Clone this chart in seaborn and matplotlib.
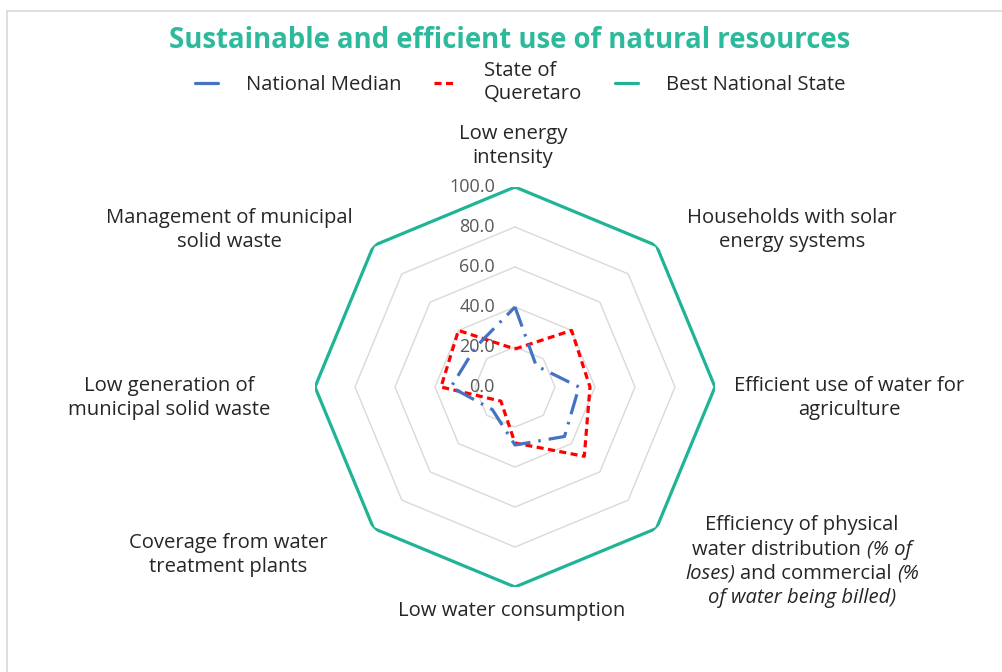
import numpy as np
import pandas as pd
import seaborn as sns
import matplotlib
matplotlib.use("Agg")
import matplotlib.pyplot as plt
import matplotlib.transforms as mtransforms
from matplotlib.lines import Line2D

# ---------------- data ----------------
categories = [
    "Low energy\nintensity",
    "Households with solar\nenergy systems",
    "Efficient use of water for\nagriculture",
    "Efficiency of physical water distribution (% of loses) and commercial (% of water being billed)",
    "Low water consumption",
    "Coverage from water\ntreatment plants",
    "Low generation of\nmunicipal solid waste",
    "Management of municipal\nsolid waste",
]
national_median = [40, 15, 32, 35, 29, 16, 32, 28]
queretaro = [19, 40, 37.5, 49, 28, 10, 37, 40]
best_state = [100, 100, 100, 100, 100, 100, 100, 100]
radial_ticks = [0, 20, 40, 60, 80, 100]
radial_tick_labels = ["0.0", "20.0", "40.0", "60.0", "80.0", "100.0"]
series_names = ["National Median", "State of\nQueretaro", "Best National State"]
title = "Sustainable and efficient use of natural resources"

# ---------------- style ----------------
sns.set_theme(style="white")
plt.rcParams["font.family"] = ["Open Sans", "DejaVu Sans"]

W, H = 1002, 672
BLUE = "#4472C4"
RED = "#FF0000"
TEAL = "#1FB495"
TITLE_C = "#2DB99B"
GRID_C = "#D9D9D9"
TXT_C = "#262626"
FS = 14.6

fig = plt.figure(figsize=(W / 100, H / 100), dpi=100)
fig.patch.set_facecolor("white")

def fx(x):
    return x / W

def fy(y):
    return 1 - y / H

cx, cy, R = 515, 387, 200
ax = fig.add_axes([fx(cx - R), fy(cy + R), 2 * R / W, 2 * R / H], projection="polar")
ax.set_theta_offset(np.pi / 2)
ax.set_theta_direction(-1)
ax.set_facecolor("none")
ax.grid(False)
ax.spines["polar"].set_visible(False)

n = len(categories)
theta = np.linspace(0, 2 * np.pi, n, endpoint=False)
theta_c = np.append(theta, theta[0] + 2 * np.pi)

def close(v):
    return np.append(np.asarray(v, float), v[0])

# octagonal grid
for t in radial_ticks[1:]:
    ax.plot(theta_c, [t] * (n + 1), color=GRID_C, lw=1.0, zorder=1)

df = pd.DataFrame({
    "theta": np.tile(theta_c, 3),
    "value": np.concatenate([close(national_median), close(queretaro), close(best_state)]),
    "series": np.repeat(series_names, n + 1),
})

styles = {
    series_names[0]: dict(color=BLUE, linestyle=(0, (6.5, 2.5, 0.8, 2.5)), lw=2.3),
    series_names[1]: dict(color=RED, linestyle=(0, (2.2, 1.4)), lw=2.3),
    series_names[2]: dict(color=TEAL, linestyle="-", lw=2.3),
}
for name in [series_names[2], series_names[1], series_names[0]]:
    sub = df[df["series"] == name]
    sns.lineplot(data=sub, x="theta", y="value", sort=False, ax=ax, zorder=3,
                 **styles[name])

ax.set_ylim(0, 100)
ax.set_xticks([])
ax.set_yticks([])
ax.set_xlabel("")
ax.set_ylabel("")

# radial tick labels
off = mtransforms.offset_copy(ax.transData, fig=fig, x=-20, y=0, units="dots")
for t, lab in zip(radial_ticks, radial_tick_labels):
    ax.text(0, t, lab, transform=off, ha="right", va="center",
            fontsize=13, color="#595959", zorder=2)

# category labels (pixel positions)
label_pos = [(513, 146), (792, 230), (849, 398), (802, 561),
             (512, 611), (228, 555), (169, 398), (229, 230)]
for i, (lab, (x, y)) in enumerate(zip(categories, label_pos)):
    if i == 3:
        continue
    fig.text(fx(x), fy(y), lab, ha="center", va="center", fontsize=FS,
             color=TXT_C, linespacing=1.28)

# mixed italic label
renderer = fig.canvas.get_renderer()

def measure(s, italic):
    t = fig.text(0, 0, s, fontsize=FS, style="italic" if italic else "normal")
    w = t.get_window_extent(renderer).width
    t.remove()
    return w

space = measure("x x", False) - measure("xx", False)
mixed_lines = [
    [("Efficiency of physical", False)],
    [("water distribution", False), ("(% of", True)],
    [("loses)", True), ("and commercial", False), ("(%", True)],
    [("of water being billed)", True)],
]
line_ys = [525, 550, 574, 598]
x_center = label_pos[3][0]
for segs, ly in zip(mixed_lines, line_ys):
    widths = [measure(s, it) for s, it in segs]
    total = sum(widths) + space * (len(segs) - 1)
    x0 = x_center - total / 2
    for (s, it), w in zip(segs, widths):
        fig.text(fx(x0), fy(ly), s, ha="left", va="center", fontsize=FS,
                 color=TXT_C, style="italic" if it else "normal")
        x0 += w + space

# title
fig.text(fx(510), fy(41), title, ha="center", va="center", fontsize=19.8,
         fontweight="bold", color=TITLE_C)

# legend
handles = [
    Line2D([], [], color=BLUE, lw=2.3),
    Line2D([], [], color=RED, lw=2.3, linestyle=(0, (2.2, 1.4))),
    Line2D([], [], color=TEAL, lw=2.3),
]
fig.legend(handles, series_names, loc="center", bbox_to_anchor=(fx(520), fy(83)),
           ncol=3, frameon=False, fontsize=FS, handlelength=1.15,
           handletextpad=1.35, columnspacing=1.6, labelcolor=TXT_C)

# frame lines of the original image
fig.add_artist(Line2D([fx(7), 1], [fy(11), fy(11)], color="#D9D9D9", lw=1.2))
fig.add_artist(Line2D([fx(7), fx(7)], [fy(11), 0], color="#D9D9D9", lw=1.2))

fig.savefig("out.png", dpi=100, facecolor="white")
